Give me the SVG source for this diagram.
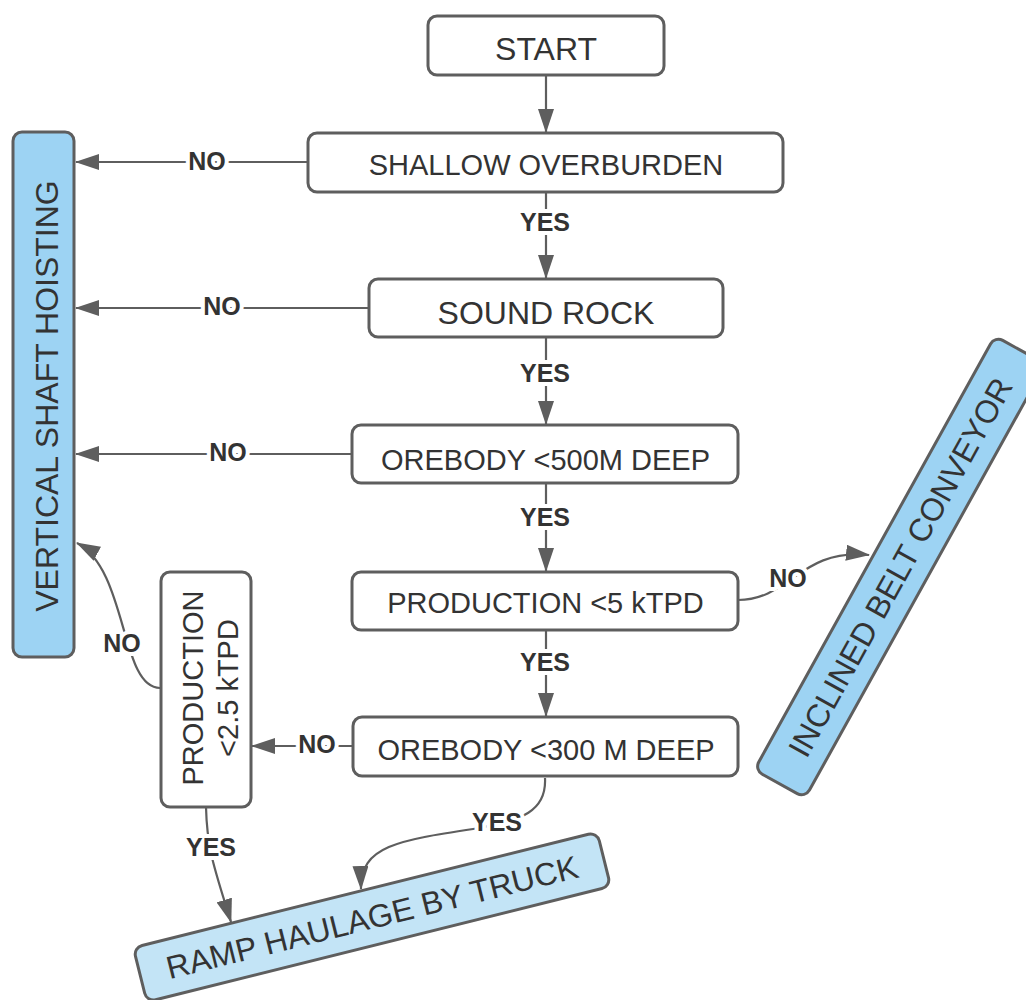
<svg xmlns="http://www.w3.org/2000/svg" width="1026" height="1000" viewBox="0 0 1026 1000">
  <defs>
    <marker id="arrow" markerUnits="userSpaceOnUse" viewBox="0 0 24 16" markerWidth="24" markerHeight="16" refX="23" refY="8" orient="auto">
      <path d="M0,0 L24,8 L0,16 Z" fill="#5e5e5e"/>
    </marker>
    <style>
      .box { fill: #ffffff; stroke: #5e5e5e; stroke-width: 3; }
      .blue { fill: #9dd3f3; }
      .lightblue { fill: #c3e4f6; }
      .t { font-family: "Liberation Sans", Arial, sans-serif; font-size: 29px; fill: #333333; text-anchor: middle; }
      .big { font-size: 32px; }
      .edge { fill: none; stroke: #5e5e5e; stroke-width: 2.2; }
      .lbl { font-family: "Liberation Sans", Arial, sans-serif; font-size: 25px; font-weight: bold; fill: #333333; text-anchor: middle; stroke: #ffffff; stroke-width: 8; paint-order: stroke; stroke-linejoin: round; }
    </style>
  </defs>

  <rect width="1026" height="1000" fill="#ffffff"/>

  <!-- connectors -->
  <g id="connectors">
    <path class="edge" d="M546,75 L546,132" marker-end="url(#arrow)"/>
    <path class="edge" d="M308,162 L76,162" marker-end="url(#arrow)"/>
    <path class="edge" d="M546,192 L546,278" marker-end="url(#arrow)"/>
    <path class="edge" d="M369,308 L76,308" marker-end="url(#arrow)"/>
    <path class="edge" d="M546,338 L546,424" marker-end="url(#arrow)"/>
    <path class="edge" d="M352,454 L76,454" marker-end="url(#arrow)"/>
    <path class="edge" d="M546,483 L546,571" marker-end="url(#arrow)"/>
    <path class="edge" d="M738,600 C790,600 800,548 869,555" marker-end="url(#arrow)"/>
    <path class="edge" d="M546,630 L546,716" marker-end="url(#arrow)"/>
    <path class="edge" d="M353,746 L252,746" marker-end="url(#arrow)"/>
    <path class="edge" d="M160,688 C120,688 128,570 77,543" marker-end="url(#arrow)"/>
    <path class="edge" d="M206,807 C207,850 215,870 231,922" marker-end="url(#arrow)"/>
    <path class="edge" d="M545,778 C547,815 515,820 480,828 C400,840 360,845 361,889" marker-end="url(#arrow)"/>

    <text class="lbl" x="207" y="170">NO</text>
    <text class="lbl" x="545" y="231">YES</text>
    <text class="lbl" x="222" y="315">NO</text>
    <text class="lbl" x="545" y="382">YES</text>
    <text class="lbl" x="228" y="461">NO</text>
    <text class="lbl" x="545" y="526">YES</text>
    <text class="lbl" x="788" y="587">NO</text>
    <text class="lbl" x="545" y="671">YES</text>
    <text class="lbl" x="317" y="753">NO</text>
    <text class="lbl" x="122" y="652">NO</text>
    <text class="lbl" x="211" y="856">YES</text>
    <text class="lbl" x="497" y="831">YES</text>
  </g>

  <!-- decision nodes -->
  <g id="start">
    <rect class="box" x="428" y="16" width="236" height="59" rx="9"/>
    <text class="t big" x="546" y="60">START</text>
  </g>
  <g id="shallow-overburden">
    <rect class="box" x="308" y="133" width="475" height="59" rx="9"/>
    <text class="t" x="546" y="174.5">SHALLOW OVERBURDEN</text>
  </g>
  <g id="sound-rock">
    <rect class="box" x="369" y="279" width="354" height="58" rx="9"/>
    <text class="t big" x="546" y="323.5">SOUND ROCK</text>
  </g>
  <g id="orebody-500">
    <rect class="box" x="352" y="425" width="386" height="58" rx="9"/>
    <text class="t" x="545.5" y="469.5">OREBODY &lt;500M DEEP</text>
  </g>
  <g id="production-5">
    <rect class="box" x="352" y="572" width="386" height="58" rx="9"/>
    <text class="t" x="545.5" y="613">PRODUCTION &lt;5 kTPD</text>
  </g>
  <g id="orebody-300">
    <rect class="box" x="353" y="717" width="385" height="59" rx="9"/>
    <text class="t" x="546" y="759.5">OREBODY &lt;300 M DEEP</text>
  </g>
  <g id="production-2-5">
    <rect class="box" x="161" y="572" width="90" height="235" rx="9"/>
    <text class="t" transform="translate(193,688) rotate(-90)" x="0" y="10.4">PRODUCTION</text>
    <text class="t" transform="translate(227.5,688) rotate(-90)" x="0" y="10.4">&lt;2.5 kTPD</text>
  </g>

  <!-- haulage outcomes -->
  <g id="vertical-shaft-hoisting">
    <rect class="box blue" x="13" y="132" width="61" height="525" rx="9"/>
    <text class="t big" transform="translate(46,396) rotate(-90)" x="0" y="11.5">VERTICAL SHAFT HOISTING</text>
  </g>
  <g id="inclined-belt-conveyor" transform="translate(900,567) rotate(-61)">
    <rect class="box blue" x="-248" y="-29" width="496" height="58" rx="9"/>
    <text class="t big" x="0" y="11.5">INCLINED BELT CONVEYOR</text>
  </g>
  <g id="ramp-haulage-by-truck" transform="translate(372,917) rotate(-14)">
    <rect class="box lightblue" x="-239" y="-28" width="478" height="56" rx="9"/>
    <text class="t big" x="0" y="11.5">RAMP HAULAGE BY TRUCK</text>
  </g>
</svg>
